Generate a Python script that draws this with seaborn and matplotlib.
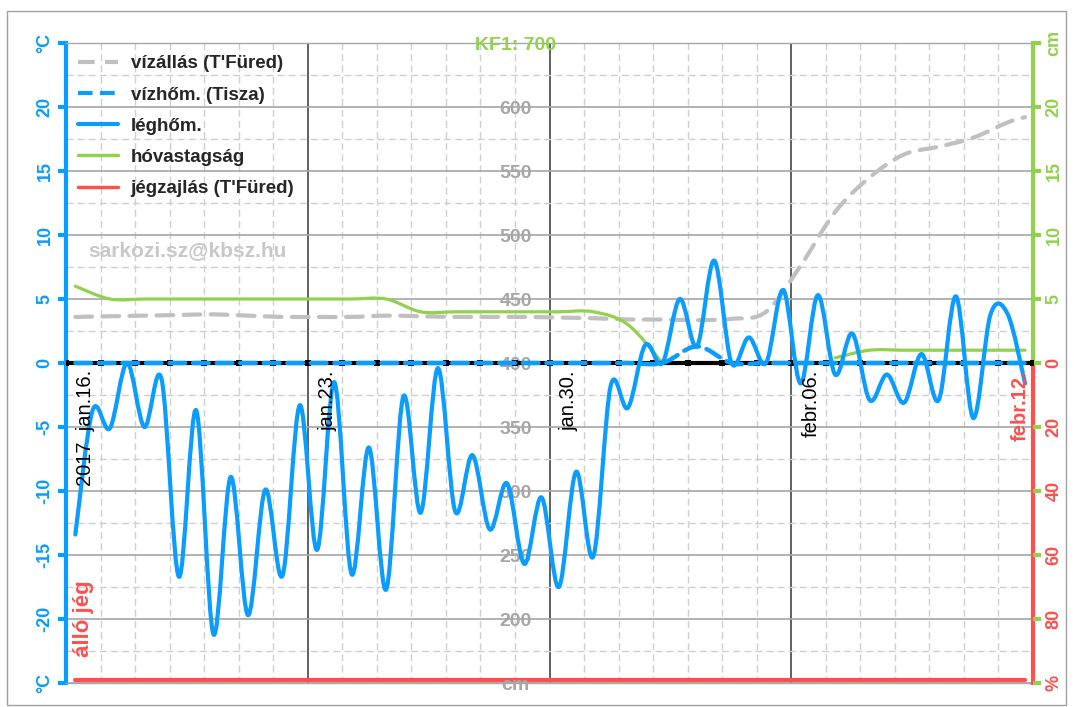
import numpy as np
import pandas as pd
import seaborn as sns
import matplotlib
matplotlib.use("Agg")
import matplotlib.pyplot as plt
from matplotlib.path import Path
from matplotlib.patches import PathPatch, Rectangle
from matplotlib.lines import Line2D
from matplotlib.ticker import MultipleLocator, FixedLocator

sns.set_style("white")
plt.rcParams['font.family'] = ['Liberation Sans', 'DejaVu Sans']

BLUE = '#0a9cff'
GREEN = '#92d050'
RED = '#ff5050'
GRAY = '#c0c0c0'
LABGRAY = '#a6a6a6'

# days since 2017 jan.16. 00:00
# air temperature (°C), two readings a day (morning / evening)
temp_t = 0.27 + 0.5 * np.arange(56)
air_temp = [-13.4, -3.7, -5.1, 0.0, -5.0, -1.3, -16.7, -3.7, -21.2, -8.9,
            -19.7, -9.9, -16.6, -3.3, -14.6, -1.5, -16.5, -6.6, -17.7, -2.6,
            -11.7, -0.4, -11.6, -7.2, -13.0, -9.4, -15.7, -10.5, -17.5, -8.5,
            -15.1, -1.8, -3.5, 1.4, 0.0, 5.0, 1.3, 8.0, 0.0, 2.0,
            0.0, 5.7, -1.6, 5.3, -0.9, 2.3, -2.9, -0.9, -3.1, 0.7,
            -2.9, 5.2, -4.3, 3.8, 3.8, -1.6]

# daily series (morning reading) + last evening reading
day_t = list(np.arange(28) + 0.27) + [27.77]
water_level = [436, 436.5, 437, 437.5, 438, 437, 436, 436, 436, 437,
               436.5, 436, 436, 436, 435.5, 435, 434, 434, 433.5, 434.5,
               440, 476, 518, 545, 563, 569, 576, 588, 592]
water_temp = [0, 0, 0, 0, 0, 0, 0, 0, 0, 0,
              0, 0, 0, 0, 0, 0, 0, 0, 1.3, 0,
              0, 0, 0, 0, 0, 0, 0, 0, 0]
# snow depth, no data between febr.03. and febr.06.
snow = [6, 5, 5, 5, 5, 5, 5, 5, 5, 5,
        4, 4, 4, 4, 4, 4, 3.0, 0, None, None,
        None, None, 0.4, 1, 1, 1, 1, 1, 1]
ice = [99] * 29  # álló jég (%)

date_pos = [0, 7, 14, 21, 28]
date_labels = ['2017  jan.16.', 'jan.23.', 'jan.30.', 'febr.06.', 'febr.12.']

temp_ticks = list(range(-25, 30, 5))
temp_ticklabels = ['°C', '-20', '-15', '-10', '-5', '0', '5', '10', '15', '20', '°C']
level_ticks = list(range(150, 700, 50))
level_ticklabels = ['cm', '200', '250', '300', '350', '400', '450', '500', '550', '600', 'KF1: 700']
right_ticklabels = ['%', '80', '60', '40', '20', '0', '5', '10', '15', '20', 'cm']


def smooth_path(xs, ys):
    # excel style smoothed line (bezier through the points)
    xs = np.asarray(xs, float)
    ys = np.asarray(ys, float)
    n = len(xs)
    verts = [(xs[0], ys[0])]
    codes = [Path.MOVETO]
    for i in range(n - 1):
        a = max(i - 1, 0)
        b = min(i + 2, n - 1)
        c1 = (xs[i] + (xs[i + 1] - xs[a]) / 6, ys[i] + (ys[i + 1] - ys[a]) / 6)
        c2 = (xs[i + 1] - (xs[b] - xs[i]) / 6, ys[i + 1] - (ys[b] - ys[i]) / 6)
        verts += [c1, c2, (xs[i + 1], ys[i + 1])]
        codes += [Path.CURVE4] * 3
    return Path(verts, codes)


def add_smooth(axis, xs, ys, **kw):
    # split on missing values, each piece smoothed on its own
    df = pd.DataFrame({'x': xs, 'y': ys})
    grp = df['y'].isna().cumsum()
    for _, part in df[df['y'].notna()].groupby(grp[df['y'].notna()]):
        if len(part) < 2:
            continue
        p = PathPatch(smooth_path(part['x'], part['y']), facecolor='none',
                      capstyle='round', joinstyle='round', zorder=3, **kw)
        axis.add_patch(p)


fig = plt.figure(figsize=(10.74, 7.07), dpi=100)
ax = fig.add_axes([66 / 1074, 1 - 683 / 707, 967 / 1074, 640 / 707])
ax.set_xlim(0, 28)
ax.set_ylim(-25, 25)
ax.xaxis.set_major_locator(FixedLocator([7, 14, 21]))
ax.xaxis.set_minor_locator(MultipleLocator(1))
ax.set_yticks(temp_ticks)
ax.yaxis.set_minor_locator(MultipleLocator(2.5))
ax.set_axisbelow(True)
ax.grid(which='major', axis='x', color='#606060', lw=1.4, ls='-')
ax.grid(which='minor', axis='x', color='#cfcfcf', lw=1, ls=(0, (5, 3)))
ax.grid(which='major', axis='y', color='#a6a6a6', lw=1.2, ls='-')
ax.grid(which='minor', axis='y', color='#cfcfcf', lw=1, ls=(0, (5, 3)))
ax.tick_params(axis='x', which='both', length=0, labelbottom=False)
ax.tick_params(axis='y', which='major', direction='out', length=6, width=3,
               color=BLUE, labelcolor=BLUE, pad=3)
ax.tick_params(axis='y', which='minor', length=0)
ax.set_yticklabels(temp_ticklabels, rotation=90, fontweight='bold',
                   fontsize=13, va='center')
ax.spines['left'].set_color(BLUE)
ax.spines['left'].set_linewidth(3)
for s in ['top', 'bottom']:
    ax.spines[s].set_color('#a6a6a6')
    ax.spines[s].set_linewidth(1)
ax.spines['right'].set_visible(False)

# ice (%) axis - lower half of right side
ax_r = ax.twinx()
sns.lineplot(x=day_t, y=ice, ax=ax_r, color=RED, lw=3)
ax_r.set_ylim(100, -100)
ax_r.set_xlim(0, 28)
ax_r.set_yticks([])
ax_r.set_ylabel('')
for s in ['top', 'bottom', 'left']:
    ax_r.spines[s].set_visible(False)
ax_r.spines['right'].set_color(RED)
ax_r.spines['right'].set_linewidth(3)
ax_r.spines['right'].set_bounds(0, 100)

# water level (cm), labels in the middle of the chart
ax_w = ax.twinx()
ax_w.set_ylim(150, 650)
ax_w.set_xlim(0, 28)
for s in ax_w.spines.values():
    s.set_visible(False)
ax_w.spines['right'].set_position(('axes', 0.465))
ax_w.set_yticks(level_ticks)
ax_w.set_yticklabels(level_ticklabels, ha='center', fontweight='bold', fontsize=14)
ax_w.tick_params(axis='y', length=0, pad=0, labelcolor=LABGRAY)
ax_w.get_yticklabels()[-1].set_color(GREEN)
add_smooth(ax_w, day_t, water_level, edgecolor=GRAY, lw=3, linestyle=(0, (4, 2.5)))

# snow depth (cm), right axis upper half
ax_s = ax.twinx()
ax_s.set_ylim(-25, 25)
ax_s.set_xlim(0, 28)
add_smooth(ax_s, day_t, snow, edgecolor=GREEN, lw=2.3)
for s in ['top', 'bottom', 'left']:
    ax_s.spines[s].set_visible(False)
ax_s.spines['right'].set_color(GREEN)
ax_s.spines['right'].set_linewidth(3)
ax_s.spines['right'].set_bounds(0, 25)
ax_s.set_yticks(temp_ticks)
ax_s.set_yticklabels(right_ticklabels, rotation=90, fontweight='bold',
                     fontsize=13, va='center')
ax_s.tick_params(axis='y', direction='out', length=6, width=3, color=GREEN, pad=3)
for i, lab in enumerate(ax_s.get_yticklabels()):
    lab.set_color(RED if i <= 5 else GREEN)

# top layer: zero line, water temp, air temp
ax_t = ax.twinx()
ax_t.set_ylim(-25, 25)
ax_t.set_xlim(0, 28)
ax_t.axis('off')
days = np.arange(29)
sns.lineplot(x=days, y=np.zeros(29), ax=ax_t, color='black', lw=3,
             marker='s', markersize=5, markeredgewidth=0, zorder=2)
add_smooth(ax_t, day_t, water_temp, edgecolor=BLUE, lw=3.2, linestyle=(0, (3.5, 1.8)))
add_smooth(ax_t, temp_t, air_temp, edgecolor=BLUE, lw=3)
ax_t.set_xlim(0, 28)
ax_t.set_ylim(-25, 25)

for i, (p, lab) in enumerate(zip(date_pos, date_labels)):
    if i == len(date_pos) - 1:
        ax_t.text(p - 0.1, -0.55, lab, rotation=90, ha='right', va='top',
                  fontsize=14.5, color=RED, fontweight='bold', zorder=5)
    else:
        ax_t.text(p + 0.3, -0.55, lab, rotation=90, ha='left', va='top',
                  fontsize=14.5, color='black', zorder=5)

ax_t.text(0.64, 8.8, 'sarkozi.sz@kbsz.hu', color='#c8c8c8', fontweight='bold',
          fontsize=15, ha='left', va='center')
ax_t.text(0.2, -23.0, 'álló jég', rotation=90, color=RED, fontweight='bold',
          fontsize=16, ha='left', va='bottom')

handles = [Line2D([], [], color=GRAY, lw=3, ls=(0, (4, 2.5))),
           Line2D([], [], color=BLUE, lw=3, ls=(0, (3.5, 1.8))),
           Line2D([], [], color=BLUE, lw=3),
           Line2D([], [], color=GREEN, lw=2.5),
           Line2D([], [], color=RED, lw=2.5)]
names = ["vízállás (T'Füred)", 'vízhőm. (Tisza)', 'léghőm.', 'hóvastagság',
         "jégzajlás (T'Füred)"]
ax_t.legend(handles, names, loc='upper left', bbox_to_anchor=(0.0, 1.0),
            frameon=False, prop={'weight': 'bold', 'size': 13.5},
            handlelength=2.1, handletextpad=0.7, labelspacing=0.75,
            borderaxespad=0.25)

fig.add_artist(Rectangle((7 / 1074, 1 - 705 / 707), 1059 / 1074, 694 / 707,
                         transform=fig.transFigure, fill=False,
                         ec='#a0a0a0', lw=1))

fig.savefig('out.png', dpi=100)
